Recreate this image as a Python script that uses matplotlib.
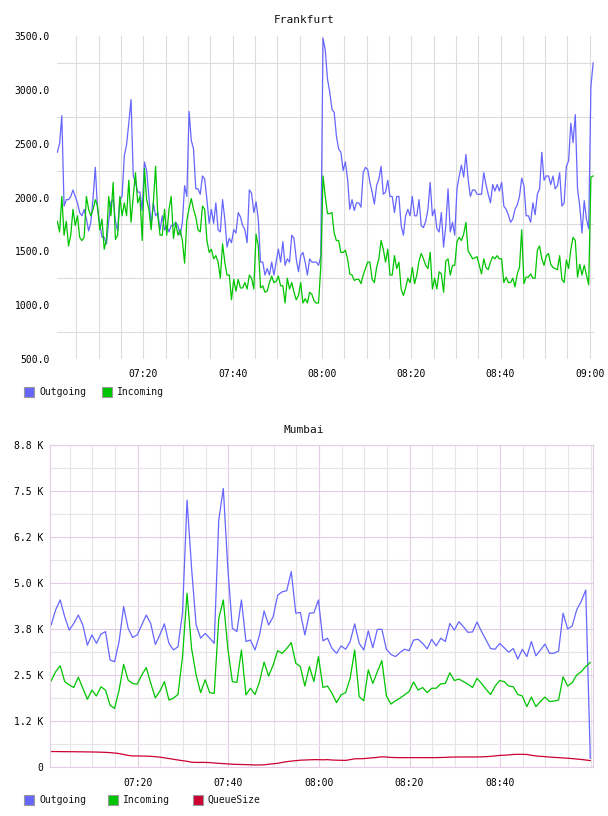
import matplotlib.pyplot as plt
import numpy as np
from matplotlib.patches import Rectangle
from matplotlib.ticker import FixedLocator, MultipleLocator

plt.rcParams['font.family'] = ['DejaVu Sans Mono']
plt.rcParams['font.size'] = 7

# Frankfurt: one sample every 30 s, first one at 07:00:45 (minutes after 07:00)
fra_start = 0.75
fra_outgoing = [
    2420, 2500, 2760, 1920, 1980, 1980, 2010, 2070, 2010, 1950,
    1860, 1830, 1890, 1800, 1690, 1770, 2000, 2280, 1890, 1760,
    1630, 1630, 1570, 1780, 1960, 1980, 1780, 1690, 1980, 2010,
    2390, 2490, 2690, 2910, 2200, 2140, 2050, 2050, 1880, 2330,
    2250, 2010, 1740, 1950, 1830, 1860, 1700, 1830, 1700, 1740,
    1680, 1740, 1740, 1770, 1740, 1650, 1770, 2110, 2010,
    2800, 2530, 2450, 2080, 2080, 2030, 2200, 2170, 1980, 1760,
    1890, 1760, 1950, 1700, 1680, 1980, 1800, 1540, 1620, 1580,
    1700, 1670, 1860, 1820, 1740, 1700, 1580, 2070, 2040, 1860,
    1960, 1800, 1400, 1400, 1280, 1340, 1280, 1400, 1280, 1400,
    1520, 1400, 1590, 1370, 1430, 1400, 1650, 1620, 1430, 1310,
    1460, 1490, 1400, 1280, 1430, 1400, 1400, 1400, 1370, 1450, 3480,
    3370, 3100, 2980, 2820, 2790, 2570, 2450, 2420, 2250, 2330,
    2170, 1890, 1980, 1880, 1950, 1950, 1910, 2230, 2280, 2260,
    2140, 2050, 1940, 2110, 2170, 2290, 2030, 2050, 2160, 2010,
    2010, 1860, 2010, 2010, 1740, 1650, 1830, 1890, 1830, 2010,
    1830, 1830, 1980, 1740, 1720, 1780, 1890, 2140, 1830, 1890,
    1710, 1680, 1860, 1540, 1740, 2080, 1680, 1770, 1650, 2080,
    2200, 2300, 2190, 2400, 2170, 2010, 2070, 2070, 2030, 2030,
    2030, 2230, 2120, 2030, 1950, 2120, 2060, 2120, 2060, 2140,
    1920, 1890, 1840, 1770, 1800, 1890, 1930, 2010, 2180, 2110,
    1830, 1830, 1770, 1950, 1840, 2030, 2080, 2420, 2160, 2200,
    2200, 2120, 2200, 2080, 2110, 2230, 1920, 1950, 2290, 2340,
    2690, 2510, 2770, 2080, 1920, 1670, 1970, 1800, 1710, 3030, 3250,
]
fra_incoming = [
    1780, 1680, 2010, 1650, 1780, 1550, 1650, 1890, 1740, 1830,
    1630, 1600, 1630, 2010, 1890, 1830, 1890, 1980, 1920, 1700,
    1800, 1520, 1610, 2010, 1830, 2140, 1610, 1650, 2010, 1830,
    1950, 1830, 2160, 1770, 2010, 2230, 1950, 2010, 1600, 2270,
    1980, 1890, 1700, 1950, 2290, 1830, 1650, 1650, 1890, 1650,
    1890, 2010, 1620, 1770, 1650, 1700, 1600, 1390, 1790,
    1900, 1990, 1890, 1820, 1700, 1680, 1920, 1890, 1600, 1490,
    1520, 1430, 1460, 1400, 1250, 1570, 1400, 1280, 1280, 1050,
    1240, 1130, 1240, 1160, 1160, 1210, 1150, 1280, 1250, 1150,
    1660, 1550, 1160, 1180, 1120, 1130, 1210, 1270, 1210, 1220,
    1270, 1180, 1180, 1020, 1250, 1150, 1210, 1120, 1050, 1090,
    1210, 1020, 1060, 1020, 1120, 1100, 1040, 1020, 1020, 1360, 2200,
    2010, 1850, 1850, 1860, 1670, 1600, 1600, 1490, 1490, 1510,
    1430, 1290, 1280, 1230, 1240, 1240, 1200, 1280, 1340, 1400,
    1400, 1240, 1210, 1350, 1430, 1600, 1520, 1400, 1520, 1280,
    1280, 1460, 1340, 1400, 1150, 1090, 1160, 1250, 1210, 1350,
    1200, 1280, 1410, 1480, 1430, 1370, 1340, 1490, 1150, 1250,
    1150, 1310, 1290, 1120, 1410, 1430, 1280, 1370, 1370, 1590,
    1630, 1600, 1660, 1770, 1500, 1470, 1430, 1440, 1450, 1370,
    1290, 1430, 1350, 1330, 1400, 1450, 1430, 1460, 1430, 1430,
    1210, 1260, 1210, 1210, 1250, 1170, 1290, 1350, 1700, 1200,
    1260, 1260, 1290, 1250, 1250, 1510, 1550, 1430, 1370, 1460,
    1480, 1380, 1350, 1340, 1330, 1460, 1240, 1210, 1420, 1340,
    1520, 1630, 1600, 1260, 1380, 1280, 1370, 1280, 1190, 2190, 2200,
]

# Mumbai: one sample per minute
mum_start = 0.9
mum_outgoing = [
    3860, 4270, 4540, 4080, 3720, 3900, 4130, 3860, 3310, 3590,
    3360, 3610, 3680, 2910, 2860, 3410, 4360, 3770, 3520, 3590,
    3860, 4130, 3890, 3330, 3590, 3890, 3360, 3180, 3270, 4200,
    7250, 5400, 3860, 3500, 3630, 3500, 3360, 6710, 7570, 5400,
    3770, 3680, 4540, 3410, 3450, 3180, 3590, 4240, 3860, 4080,
    4670, 4760, 4790, 5310, 4180, 4200, 3590, 4180, 4190, 4540,
    3430, 3500, 3220, 3090, 3290, 3200, 3410, 3890, 3360, 3180,
    3700, 3240, 3740, 3740, 3200, 3060, 3000, 3110, 3200, 3160,
    3450, 3470, 3360, 3210, 3470, 3290, 3500, 3410, 3900, 3720,
    3950, 3810, 3660, 3670, 3940, 3680, 3450, 3220, 3200, 3360,
    3240, 3120, 3220, 2930, 3200, 3000, 3410, 3020, 3180, 3340,
    3090, 3090, 3150, 4180, 3750, 3830, 4270, 4500, 4810, 235,
]
mum_incoming = [
    2340, 2590, 2750, 2320, 2230, 2160, 2440, 2140, 1840, 2090,
    1930, 2180, 2090, 1680, 1590, 2090, 2790, 2360, 2270, 2250,
    2500, 2700, 2270, 1880, 2060, 2320, 1820, 1870, 1970, 3000,
    4720, 3220, 2500, 2020, 2370, 2020, 2000, 4040, 4540, 3220,
    2320, 2300, 3180, 1960, 2140, 1970, 2320, 2850, 2470, 2770,
    3160, 3090, 3220, 3380, 2820, 2730, 2200, 2730, 2320, 3000,
    2160, 2200, 2000, 1750, 1960, 2020, 2410, 3180, 1910, 1800,
    2640, 2270, 2590, 2890, 1930, 1710, 1800, 1870, 1960, 2050,
    2310, 2090, 2160, 2020, 2140, 2140, 2260, 2270, 2560, 2350,
    2390, 2320, 2250, 2160, 2410, 2270, 2110, 1970, 2200, 2350,
    2320, 2200, 2180, 1970, 1930, 1640, 1900, 1640, 1780, 1900,
    1780, 1790, 1820, 2450, 2200, 2290, 2500, 2590, 2730, 2840,
]
mum_queue = [
    420, 420, 418, 417, 416, 415, 413, 412, 410, 408,
    406, 402, 398, 390, 380, 365, 340, 315, 300, 300,
    298, 295, 290, 280, 268, 250, 230, 210, 190, 172,
    155, 130, 125, 125, 125, 120, 108, 100, 92, 84,
    76, 70, 68, 65, 60, 55, 55, 60, 75, 88,
    100, 125, 145, 160, 172, 185, 190, 195, 200, 200,
    195, 200, 190, 185, 182, 180, 200, 222, 225, 228,
    240, 250, 262, 278, 270, 260, 256, 254, 254, 255,
    255, 255, 255, 255, 254, 255, 258, 262, 268, 270,
    272, 272, 272, 272, 273, 276, 280, 290, 302, 315,
    320, 330, 340, 345, 345, 340, 320, 300, 290, 282,
    270, 262, 254, 246, 238, 228, 216, 205, 190, 175,
]

fra_ticks = [20, 40, 60, 80, 100, 120]
fra_ticklabels = ['07:20', '07:40', '08:00', '08:20', '08:40', '09:00']
mum_ticks = [20, 40, 60, 80, 100]
mum_ticklabels = ['07:20', '07:40', '08:00', '08:20', '08:40']
fra_yticks = [500, 1000, 1500, 2000, 2500, 3000, 3500]
mum_yticks = [0, 1250, 2500, 3750, 5000, 6250, 7500, 8750]
mum_yticklabels = ['0', '1.2 K', '2.5 K', '3.8 K', '5.0 K', '6.2 K', '7.5 K', '8.8 K']

BLUE = '#6666ff'
GREEN = '#00c400'
RED = '#cc0033'
GRID = '#dcdcdc'
PURPLE = '#e4cce4'

W, H = 608, 816
fig = plt.figure(figsize=(W / 100, H / 100), dpi=100)


def px_axes(x0, y0, x1, y1):
    return fig.add_axes([x0 / W, 1 - y1 / H, (x1 - x0) / W, (y1 - y0) / H])


def legend(y, items):
    for x, label, color in items:
        fig.patches.append(Rectangle((x / W, 1 - (y + 5) / H), 10 / W, 10 / H,
                                     transform=fig.transFigure, facecolor=color,
                                     edgecolor='#999999', lw=0.8))
        fig.text((x + 15) / W, 1 - y / H, label, va='center', ha='left', color='#111111')


# ---- Frankfurt
ax1 = px_axes(57, 36, 594, 359)
t1 = fra_start + 0.5 * np.arange(len(fra_outgoing))
ax1.plot(t1, fra_outgoing, color=BLUE, lw=0.9)
ax1.plot(t1, fra_incoming, color=GREEN, lw=0.9)
ax1.set_xlim(0.67, 120.94)
ax1.set_ylim(500, 3500)
ax1.set_yticks(fra_yticks, [f'{v:.1f}' for v in fra_yticks])
ax1.yaxis.set_minor_locator(FixedLocator([750, 1250, 1750, 2250, 2750, 3250]))
ax1.set_xticks(fra_ticks, fra_ticklabels)
ax1.xaxis.set_minor_locator(MultipleLocator(5))
ax1.grid(which='both', axis='x', color=GRID, lw=0.8)
ax1.grid(which='minor', axis='y', color=GRID, lw=0.8)
ax1.tick_params(which='both', length=0)
ax1.tick_params(axis='y', pad=5)
ax1.tick_params(axis='x', pad=7)
for s in ax1.spines.values():
    s.set_visible(False)
ax1.set_axisbelow(True)
fig.text(0.5, 1 - 20 / H, 'Frankfurt', ha='center', va='center', fontsize=8, color='#111111')
legend(392, [(24, 'Outgoing', BLUE), (102, 'Incoming', GREEN)])

# ---- Mumbai
ax2 = px_axes(50, 445, 593, 767)
t2 = mum_start + np.arange(len(mum_outgoing))
ax2.plot(t2, mum_outgoing, color=BLUE, lw=0.9)
ax2.plot(t2, mum_incoming, color=GREEN, lw=0.9)
ax2.plot(t2, mum_queue, color=RED, lw=0.9)
ax2.set_xlim(0.65, 120.5)
ax2.set_ylim(0, 8750)
ax2.set_yticks(mum_yticks, mum_yticklabels)
ax2.yaxis.set_minor_locator(MultipleLocator(625))
ax2.set_xticks(mum_ticks, mum_ticklabels)
ax2.xaxis.set_minor_locator(MultipleLocator(5))
ax2.grid(which='major', color=PURPLE, lw=0.8)
ax2.grid(which='minor', color='#e6e6e6', lw=0.8)
ax2.tick_params(which='both', length=0)
ax2.tick_params(axis='y', pad=5)
ax2.tick_params(axis='x', pad=8)
for s in ax2.spines.values():
    s.set_color(PURPLE)
    s.set_linewidth(0.8)
ax2.set_axisbelow(True)
fig.text(0.5, 1 - 430 / H, 'Mumbai', ha='center', va='center', fontsize=8, color='#111111')
legend(800, [(24, 'Outgoing', BLUE), (108, 'Incoming', GREEN), (193, 'QueueSize', RED)])

fig.savefig('out.png', dpi=100)
